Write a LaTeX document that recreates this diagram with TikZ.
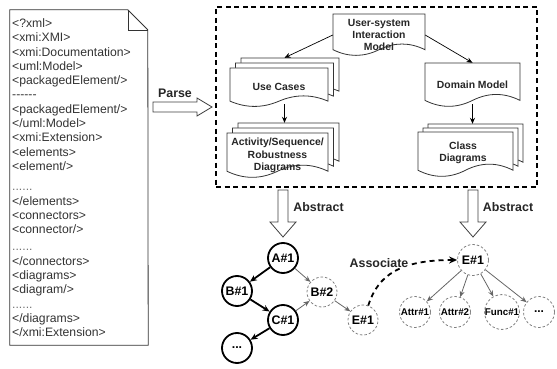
\documentclass[tikz,border=0pt]{standalone}
\usepackage{fontspec}
\setmainfont{Liberation Sans}
\usetikzlibrary{arrows.meta,calc}
\definecolor{dgray}{HTML}{808080}
\definecolor{agray}{HTML}{666666}
\definecolor{xmlc}{HTML}{333333}
\newcommand\docshape[4]{%
 \filldraw[docline] (#1,#2) -- ({#1+#3},#2) -- ({#1+#3},{#2+0.85*#4})
 .. controls ({#1+5*#3/6},{#2+0.67*#4}) and ({#1+2*#3/3},{#2+0.67*#4}) .. ({#1+#3/2},{#2+0.85*#4})
 .. controls ({#1+#3/3},{#2+1.03*#4}) and ({#1+#3/6},{#2+1.03*#4}) .. (#1,{#2+0.85*#4}) -- cycle;}
\begin{document}
\begin{tikzpicture}[x=1pt,y=-1pt,
  docline/.style={draw=black!80,fill=white,line width=0.8pt},
  xmlt/.style={anchor=base west,inner sep=0pt,text=xmlc,font=\fontsize{12.2}{14}\selectfont},
  lbl/.style={inner sep=0pt,align=center,text=black!85,font=\bfseries\fontsize{10.4}{12.4}\selectfont},
  holder/.style={inner sep=0pt,draw=none},
  biglbl/.style={inner sep=0pt,text=black!85,font=\bfseries\fontsize{12.4}{14}\selectfont},
  topar/.style={draw=black,line width=0.7pt,-{Stealth[length=6pt,width=5pt]}},
  blockar/.style={draw=black!75,fill=white,line width=0.8pt},
  solidc/.style={circle,draw=black,line width=1.8pt,minimum size=30pt,inner sep=0pt,fill=white,
     font=\bfseries\fontsize{12.4}{14}\selectfont},
  dashc/.style={circle,draw=dgray,line width=0.8pt,dash pattern=on 2.5pt off 2pt,minimum size=30pt,inner sep=0pt,fill=white,
     font=\bfseries\fontsize{12.4}{14}\selectfont},
  smallc/.style={dashc,font=\bfseries\fontsize{9.8}{11}\selectfont},
  thickar/.style={draw=black,line width=1.8pt,-{Stealth[length=7pt,width=6pt]}},
  grayar/.style={draw=agray,line width=0.8pt,-{Stealth[length=6pt,width=5pt]}},
  assocar/.style={draw=black,line width=1.8pt,dash pattern=on 5pt off 4pt,-{Stealth[length=8pt,width=7pt]}}
]
\useasboundingbox (0,0) rectangle (557,369);

% ---------- XML document ----------
\node[holder,minimum width=138pt,minimum height=335pt] (xmldoc) at (79,177.5) {};
\filldraw[docline] (xmldoc.north west) -- ++(118,0) -- ++(20,20) -- (xmldoc.south east) -- (xmldoc.south west) -- cycle;
\draw[docline,fill=none] (128,10) -- (128,30) -- (148,30);
\node[xmlt] (l1) at (12,27.5) {<?xml>};
\node[xmlt] (l2) at (12,41.8) {<xmi:XMI>};
\node[xmlt] (l3) at (12,56.1) {<xmi:Documentation>};
\node[xmlt] (l4) at (12,70.4) {<uml:Model>};
\node[xmlt] (l5) at (12,84.7) {<packagedElement/>};
\node[xmlt] (l6) at (12,99.0) {-{}-{}-{}-{}-{}-};
\node[xmlt] (l7) at (12,113.3) {<packagedElement/>};
\node[xmlt] (l8) at (12,127.6) {</uml:Model>};
\node[xmlt] (l9) at (12,141.9) {<xmi:Extension>};
\node[xmlt] (l10) at (12,156.2) {<elements>};
\node[xmlt] (l11) at (12,170.5) {<element/>};
\node[xmlt,text=black!55] (l12) at (12,190) {......};
\node[xmlt] (l13) at (12,205.5) {</elements>};
\node[xmlt] (l14) at (12,219.5) {<connectors>};
\node[xmlt] (l15) at (12,233.5) {<connector/>};
\node[xmlt,text=black!55] (l16) at (12,250) {......};
\node[xmlt] (l17) at (12,265) {</connectors>};
\node[xmlt] (l18) at (12,279) {<diagrams>};
\node[xmlt] (l19) at (12,293) {<diagram/>};
\node[xmlt,text=black!55] (l20) at (12,308) {......};
\node[xmlt] (l21) at (12,322) {</diagrams>};
\node[xmlt] (l22) at (12,336) {</xmi:Extension>};

% ---------- dashed container ----------
\node[holder,draw=black,line width=1.6pt,dash pattern=on 5pt off 3.5pt,minimum width=321pt,minimum height=180pt] (box) at (376.5,97) {};

% ---------- Parse arrow ----------
\coordinate (pS) at (153,107);
\coordinate (pE) at (212,107);
\draw[blockar] (pS) ++(0,-5) -- ++(44,0) -- ++(0,-4) -- (pE) -- ++(-15,9) -- ++(0,-4) -- ++(-44,0) -- cycle;
\node[biglbl] (parse) at (175,93) {Parse};

% ---------- top model ----------
\docshape{333}{14}{92}{42}
\node[holder,lbl,minimum width=92pt,minimum height=42pt] (usi) at (379,35) {User-system\\Interaction\\Model};

% Use Cases (multi document)
\docshape{241}{58}{98}{39}
\docshape{235.5}{63}{98}{39}
\docshape{230}{68}{98}{39}
\node[holder,minimum width=109pt,minimum height=49pt] (uc) at (284.5,82.5) {};
\node[lbl] (uct) at (279,87) {Use Cases};

% Domain Model
\docshape{425}{63}{95}{44}
\node[holder,lbl,minimum width=95pt,minimum height=44pt] (dm) at (472.5,85) {Domain Model};

% Activity/Sequence/Robustness Diagrams
\docshape{238}{123}{101}{45}
\docshape{232.5}{128}{101}{45}
\docshape{227}{133}{101}{45}
\node[holder,minimum width=112pt,minimum height=55pt] (asr) at (283,150.5) {};
\node[lbl] (asrt) at (277.5,155.5) {Activity/Sequence/\\Robustness\\Diagrams};

% Class Diagrams
\docshape{428}{124}{95}{45}
\docshape{423}{128}{95}{45}
\docshape{418}{132}{95}{45}
\node[holder,minimum width=105pt,minimum height=53pt] (cd) at (470.5,150.5) {};
\node[lbl] (cdt) at (463,153) {Class\\Diagrams};

\draw[topar] (usi.west) -- (uc.north);
\draw[topar] (usi.east) -- (dm.north);
\draw[topar] ([yshift=3pt]uc.south) -- (uc.south |- asr.north);
\draw[topar] ([yshift=3pt]dm.south) -- (dm.south |- cd.north);

% ---------- Abstract arrows ----------
\coordinate (a1S) at (283,190);
\coordinate (a1E) at (283,237);
\draw[blockar] (a1S) ++(-5,0) -- ++(0,32) -- ++(-8,0) -- (a1E) -- ++(13,-15) -- ++(-8,0) -- ++(0,-32) -- cycle;
\node[biglbl] (abs1) at (318.5,207) {Abstract};
\coordinate (a2S) at (473,190);
\coordinate (a2E) at (473,237);
\draw[blockar] (a2S) ++(-5,0) -- ++(0,32) -- ++(-8,0) -- (a2E) -- ++(13,-15) -- ++(-8,0) -- ++(0,-32) -- cycle;
\node[biglbl] (abs2) at (508,207) {Abstract};

% ---------- left graph ----------
\node[solidc] (A1) at (283,258) {A\#1};
\node[solidc] (B1) at (237,291) {B\#1};
\node[solidc] (C1) at (283,320) {C\#1};
\node[solidc] (D1) at (237,348) {...};
\node[dashc] (B2) at (322,292) {B\#2};
\node[dashc] (E1a) at (363,320) {E\#1};

\draw[thickar] (A1) -- (B1);
\draw[thickar] (B1) -- (C1);
\draw[thickar] (C1) -- (D1);
\draw[grayar] (A1) -- (B2);
\draw[grayar] (C1) -- (B2);
\draw[grayar] (B2) -- (E1a);

% ---------- right graph ----------
\node[dashc,minimum size=31pt] (E1b) at (473,260) {E\#1};
\node[smallc,minimum size=31pt] (At1) at (415,312) {Attr\#1};
\node[smallc,minimum size=31pt] (At2) at (455,312) {Attr\#2};
\node[smallc,minimum size=31pt] (F1) at (502,312) {Func\#1};
\node[smallc,minimum size=31pt,font=\bfseries\fontsize{12}{14}\selectfont] (Dd) at (539,312) {...};
\draw[grayar] (E1b) -- (At1);
\draw[grayar] (E1b) -- (At2);
\draw[grayar] (E1b) -- (F1);
\draw[grayar] (E1b) -- (Dd);

% ---------- associate ----------
\draw[assocar] (E1a.70) .. controls (378,275) and (400,260) .. (E1b.west);
\node[biglbl,fill=white,inner sep=0.5pt] (assoc) at (379,263) {Associate};
\end{tikzpicture}
\end{document}
